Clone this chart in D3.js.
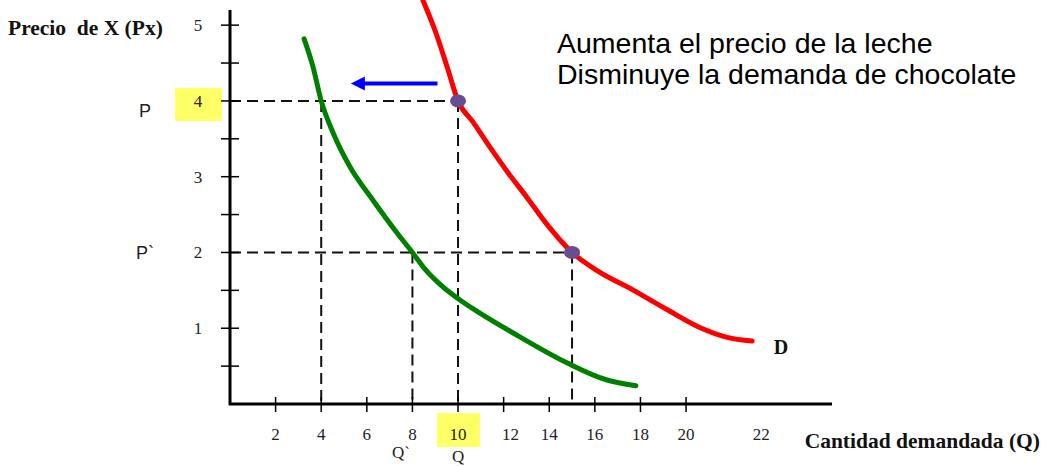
<!DOCTYPE html>
<html>
<head>
<meta charset="utf-8">
<script src="https://cdn.jsdelivr.net/npm/d3@7"></script>
<style>
  html, body { margin: 0; padding: 0; background: #fff; }
  svg { display: block; }
</style>
</head>
<body>
<svg id="chart" width="1045" height="466"></svg>
<script>
// ---------- data ----------
const titleY = "Precio  de X (Px)";
const titleX = "Cantidad demandada (Q)";
const noteLines = ["Aumenta el precio de la leche", "Disminuye la demanda de chocolate"];
const curveLabel = "D";

// original demand curve D (Q, P)
const demandQ = [8.46, 9.04, 9.52, 10, 10.66, 11.4, 12.2, 13.04, 13.9, 15, 16.1, 17.7, 19.2, 20.6, 21.8, 22.9];
const demandP = [5.33, 4.89, 4.45, 4, 3.72, 3.39, 3.05, 2.72, 2.37, 2, 1.76, 1.50, 1.24, 1.01, 0.88, 0.83];
// shifted demand curve (Q, P)
const shiftedQ = [3.25, 3.64, 4.0, 4.52, 5.26, 6.27, 7.32, 8.0, 8.55, 9.21, 10.1, 10.96, 12.4, 14.8, 16.5, 17.8];
const shiftedP = [4.82, 4.45, 4.0, 3.58, 3.13, 2.69, 2.26, 2.0, 1.78, 1.58, 1.37, 1.20, 0.94, 0.54, 0.32, 0.24];

// equilibrium points on D
const pointQ = [10, 15];
const pointP = [4, 2];
const priceLevels = [4, 2];
const priceEndQ = [10, 15];
const qtyDrops = [4, 10, 8, 15];
const qtyDropFromP = [4, 4, 2, 2];

// shift arrow
const arrowQ = [9.1, 5.3];
const arrowP = [4.23, 4.23];

// axes
const xTickMarks = [2, 4, 6, 8, 10, 12, 14, 16, 18, 20];
const xTickLabels = ["2", "4", "6", "8", "10", "12", "14", "16", "18", "20", "22"];
const xTickLabelAt = [2, 4, 6, 8, 10, 12.3, 14, 16, 18, 20, 23.3];
const yTickMarks = [0.5, 1, 1.5, 2, 2.5, 3, 3.5, 4, 4.5, 5];
const yTickLabels = [1, 2, 3, 4, 5];
const yHighlight = 4;
const xHighlight = 10;
const priceNames = ["P", "P`"];
const priceNameAt = [3.87, 2.0];
const qtyNames = ["Q`", "Q"];
const qtyNameAt = [7.5, 10];

// ---------- drawing ----------
const svg = d3.select("#chart");
const x = d3.scaleLinear().domain([0, 26.4]).range([230, 832]);
const y = d3.scaleLinear().domain([0, 5.2]).range([404, 10]);
const serif = "'Liberation Serif', 'Times New Roman', serif";
const sans = "'Liberation Sans', Arial, sans-serif";

// highlight boxes
svg.append("rect").attr("x", 175).attr("y", y(yHighlight) - 13)
  .attr("width", 47).attr("height", 33).attr("fill", "#ffff66");
svg.append("rect").attr("x", x(xHighlight) - 21).attr("y", 413)
  .attr("width", 43).attr("height", 34).attr("fill", "#ffff66");

// dashed reference lines
const dash = svg.append("g").attr("stroke", "#111").attr("stroke-width", 2)
  .attr("stroke-dasharray", "11,6").attr("fill", "none");
priceLevels.forEach((p, i) => {
  dash.append("line").attr("x1", x(0)).attr("x2", x(priceEndQ[i]))
    .attr("y1", y(p)).attr("y2", y(p));
});
qtyDrops.forEach((q, i) => {
  dash.append("line").attr("x1", x(q)).attr("x2", x(q))
    .attr("y1", y(qtyDropFromP[i])).attr("y2", y(0));
});

// axes
const ax = svg.append("g").attr("stroke", "#000");
ax.append("line").attr("x1", x(0)).attr("x2", x(0)).attr("y1", y(5.2)).attr("y2", y(0) + 1)
  .attr("stroke-width", 3);
ax.append("line").attr("x1", x(0) - 1).attr("x2", x(26.4)).attr("y1", y(0)).attr("y2", y(0))
  .attr("stroke-width", 3);
ax.selectAll(".yt").data(yTickMarks).join("line")
  .attr("x1", x(0) - 9).attr("x2", x(0) + 9)
  .attr("y1", d => y(d)).attr("y2", d => y(d)).attr("stroke-width", 1.5);
ax.selectAll(".xt").data(xTickMarks).join("line")
  .attr("x1", d => x(d)).attr("x2", d => x(d))
  .attr("y1", y(0) - 7).attr("y2", y(0) + 8).attr("stroke-width", 1.5);

// tick labels
svg.selectAll(".ytl").data(yTickLabels).join("text")
  .attr("x", 198).attr("y", d => y(d)).attr("dy", "0.35em")
  .attr("text-anchor", "middle").attr("font-family", serif).attr("font-size", 17)
  .attr("fill", "#222").text(d => d);
svg.selectAll(".xtl").data(xTickLabels).join("text")
  .attr("x", (d, i) => x(xTickLabelAt[i])).attr("y", 440)
  .attr("text-anchor", "middle").attr("font-family", serif).attr("font-size", 17)
  .attr("fill", "#222").text(d => d);

// price / quantity names
svg.selectAll(".pn").data(priceNames).join("text")
  .attr("x", 145).attr("y", (d, i) => y(priceNameAt[i])).attr("dy", "0.36em")
  .attr("text-anchor", "middle").attr("font-family", sans).attr("font-size", 18)
  .attr("fill", "#222").text(d => d);
svg.selectAll(".qn").data(qtyNames).join("text")
  .attr("x", (d, i) => x(qtyNameAt[i])).attr("y", (d, i) => i === 0 ? 458 : 462)
  .attr("text-anchor", "middle").attr("font-family", serif).attr("font-size", 17)
  .attr("fill", "#222").text(d => d);

// curves
const line = d3.line().x(d => x(d[0])).y(d => y(d[1])).curve(d3.curveMonotoneX);
svg.append("path").datum(shiftedQ.map((q, i) => [q, shiftedP[i]]))
  .attr("d", line).attr("fill", "none").attr("stroke", "#008000")
  .attr("stroke-width", 5).attr("stroke-linecap", "round");
svg.append("path").datum(demandQ.map((q, i) => [q, demandP[i]]))
  .attr("d", line).attr("fill", "none").attr("stroke", "#ff0000")
  .attr("stroke-width", 5).attr("stroke-linecap", "round");

// equilibrium points
svg.selectAll(".pt").data(pointQ).join("ellipse")
  .attr("cx", d => x(d)).attr("cy", (d, i) => y(pointP[i]))
  .attr("rx", 8).attr("ry", 6.5).attr("fill", "#6a4c93");

// arrow
const ax0 = x(arrowQ[0]), ax1 = x(arrowQ[1]), ay = y(arrowP[0]);
svg.append("line").attr("x1", ax0).attr("x2", ax1 + 12).attr("y1", ay).attr("y2", ay)
  .attr("stroke", "#0000ff").attr("stroke-width", 4);
svg.append("path")
  .attr("d", `M${ax1},${ay} L${ax1 + 14},${ay - 7} L${ax1 + 14},${ay + 7} Z`)
  .attr("fill", "#0000ff");

// titles
svg.append("text").attr("x", 8).attr("y", 35).attr("font-family", serif)
  .attr("font-weight", "bold").attr("font-size", 21.5).attr("fill", "#111")
  .style("white-space", "pre").text(titleY);
svg.append("text").attr("x", 1040).attr("y", 448).attr("text-anchor", "end")
  .attr("font-family", serif).attr("font-weight", "bold").attr("font-size", 21.5)
  .attr("fill", "#111").text(titleX);
svg.append("text").attr("x", 781).attr("y", 354).attr("text-anchor", "middle")
  .attr("font-family", serif).attr("font-weight", "bold").attr("font-size", 20)
  .attr("fill", "#111").text(curveLabel);

// note
svg.selectAll(".note").data(noteLines).join("text")
  .attr("x", 557).attr("y", (d, i) => 53 + i * 31)
  .attr("font-family", sans).attr("font-size", 28.5).attr("fill", "#000")
  .text(d => d);
</script>
</body>
</html>
